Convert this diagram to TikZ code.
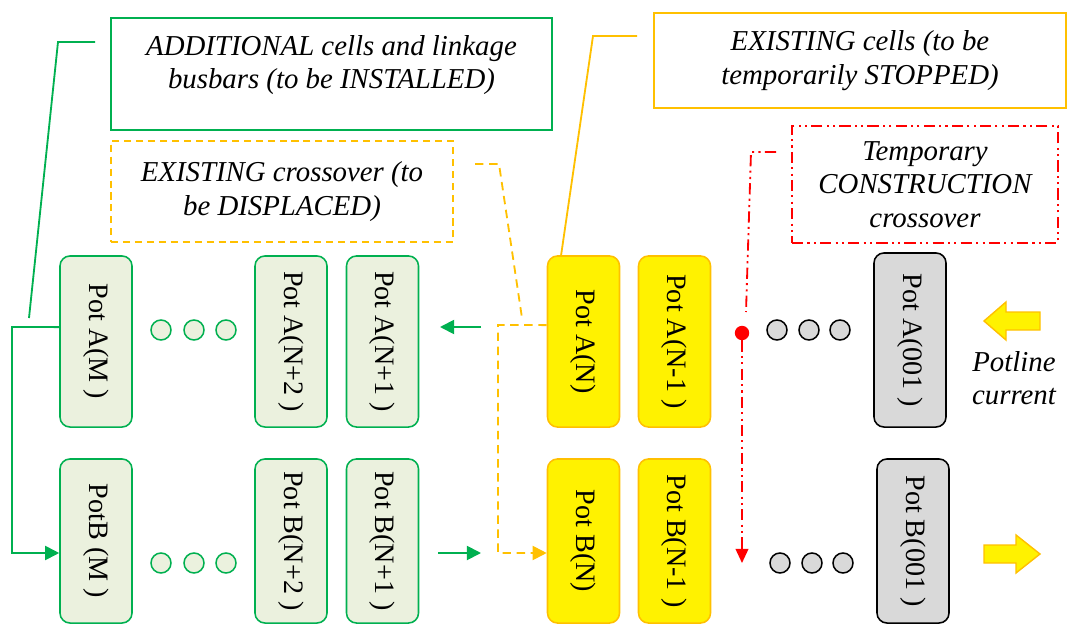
\documentclass[tikz,border=0pt]{standalone}
\usepackage{fontspec}
\setmainfont{Liberation Serif}
\usepackage{tikz}
\usetikzlibrary{arrows.meta}
\definecolor{ogreen}{HTML}{00B050}
\definecolor{lgreen}{HTML}{EBF1DE}
\definecolor{ogold}{HTML}{FFC000}
\definecolor{cgray}{HTML}{D9D9D9}

\begin{document}
\begin{tikzpicture}[x=0.025cm,y=-0.025cm,
    pot/.style={draw,rounded corners=0.25cm,line width=1.1pt,minimum width=1.8cm,
        minimum height=4.275cm,inner sep=0pt,font=\fontsize{20}{24}\selectfont},
    potb/.style={pot,minimum height=4.1cm},
    newpot/.style={fill=lgreen,draw=ogreen},
    oldpot/.style={fill=yellow,draw=ogold},
    firstpot/.style={fill=cgray,draw=black},
    notebox/.style={line width=1.1pt,inner sep=0pt,align=center,
        font=\fontsize{20.5}{23.7}\selectfont\itshape},
    celldot/.style={circle,line width=1.1pt,minimum size=0.5cm,inner sep=0pt},
    gline/.style={ogreen,line width=1.3pt},
    yline/.style={ogold,line width=1.3pt},
    ydash/.style={yline,dash pattern=on 6pt off 4pt},
    rdash/.style={red,line width=1.3pt,dash pattern=on 8pt off 3pt on 1.5pt off 3pt on 1.5pt off 3pt},
    tip/.style={-{Triangle[length=10pt,width=10pt]}}]
    \useasboundingbox (0,0) rectangle (1068,624);
    % notes
    \node[notebox,draw=ogreen] (addbox) at (331.5,74)
        {\parbox[c][2.8cm][c]{11.025cm}{\centering ADDITIONAL cells and linkage\\busbars (to be INSTALLED)\par\vspace*{0.45cm}}};
    \node[notebox,draw=ogold,minimum width=10.3cm,minimum height=2.375cm] (stopbox) at (860,60.5)
        {EXISTING cells (to be\\temporarily STOPPED)};
    \node[notebox,draw=ogold,dash pattern=on 5pt off 3.5pt,minimum width=8.55cm,minimum height=2.525cm] (movebox) at (282,191.5)
        {EXISTING crossover (to\\be DISPLACED)};
    \node[notebox,rdash,draw=red,text=black,minimum width=6.65cm,minimum height=2.925cm] (tempbox) at (925,184.5)
        {Temporary\\CONSTRUCTION\\crossover};
    % pots, line A
    \node[pot,newpot] (pAM) at (96,341.5) {\rotatebox{-90}{Pot A(M )}};
    \node[pot,newpot] (pAN2) at (291,341.5) {\rotatebox{-90}{Pot A(N+2 )}};
    \node[pot,newpot] (pAN1) at (382.5,341.5) {\rotatebox{-90}{Pot A(N+1 )}};
    \node[pot,oldpot] (pAN) at (583.5,341.5) {\rotatebox{-90}{Pot A(N)}};
    \node[pot,oldpot] (pANm) at (674.5,341.5) {\rotatebox{-90}{Pot A(N-1 )}};
    \node[pot,firstpot,minimum height=4.35cm] (pA1) at (910,340) {\rotatebox{-90}{Pot A(001 )}};
    % pots, line B
    \node[potb,newpot] (pBM) at (96,541) {\rotatebox{-90}{PotB (M )}};
    \node[potb,newpot] (pBN2) at (291,541) {\rotatebox{-90}{Pot B(N+2 )}};
    \node[potb,newpot] (pBN1) at (382.5,541) {\rotatebox{-90}{Pot B(N+1 )}};
    \node[potb,oldpot] (pBN) at (583.5,541) {\rotatebox{-90}{Pot B(N)}};
    \node[potb,oldpot] (pBNm) at (674.5,541) {\rotatebox{-90}{Pot B(N-1 )}};
    \node[potb,firstpot] (pB1) at (913,541) {\rotatebox{-90}{Pot B(001 )}};
    % cells in between
    \foreach \x [count=\i] in {161,194,226} {
        \node[celldot,draw=ogreen,fill=lgreen] (ga\i) at (\x,330) {};
        \node[celldot,draw=ogreen,fill=lgreen] (gb\i) at (\x,563) {};
    }
    \foreach \x [count=\i] in {777,809,840} {
        \node[celldot,draw=black,fill=cgray] (ca\i) at (\x,330) {};
        \node[celldot,draw=black,fill=cgray] (cb\i) at (\x+3,563) {};
    }
    % linkage busbars
    \draw[gline,tip] ([yshift=0.36cm]pAM.west) -- (12,327) -- (12,553) -- ([yshift=-0.3cm]pBM.west);
    \coordinate (linkAs) at (481,327);
    \coordinate (linkAe) at (440,327);
    \coordinate (linkBs) at (438,553);
    \coordinate (linkBe) at (481,553);
    \draw[gline,tip] (linkAs) -- (linkAe);
    \draw[gline,tip] (linkBs) -- (linkBe);
    % existing crossover
    \draw[ydash,tip] ([yshift=0.41cm]pAN.west) -- (498,325) -- (498,553) -- ([yshift=-0.3cm]pBN.west);
    % temporary crossover
    \node[circle,fill=red,minimum size=0.36cm,inner sep=0pt] (rdot) at (742,333) {};
    \coordinate (rend) at (742,563);
    \draw[rdash,-{Triangle[length=10pt,width=9pt]}] (rdot) -- (rend);
    % callouts
    \coordinate (addc1) at (95,42);
    \coordinate (addc2) at (29,318);
    \draw[gline] (addc1) -- (58,42) -- (addc2);
    \coordinate (movec1) at (475,164);
    \coordinate (movec2) at (522,318);
    \draw[ydash] (movec1) -- (499,164) -- (movec2);
    \coordinate (stopc1) at (637,36);
    \draw[yline] (stopc1) -- (593,36) -- ([xshift=-0.56cm]pAN.north);
    \coordinate (tempc1) at (776,152);
    \coordinate (tempc2) at (746,312);
    \draw[rdash] (tempc1) -- (751,152) -- (tempc2);
    % potline current
    \draw[fill=yellow,draw=ogold,line width=1pt] (984,321) -- (1006,302) -- (1006,312) -- (1040,312)
        -- (1040,330) -- (1006,330) -- (1006,340) -- cycle;
    \draw[fill=yellow,draw=ogold,line width=1pt] (1040,554) -- (1016,535) -- (1016,545) -- (984,545)
        -- (984,563) -- (1016,563) -- (1016,573) -- cycle;
    \node[notebox] (current) at (1014,378) {Potline\\current};
\end{tikzpicture}
\end{document}
